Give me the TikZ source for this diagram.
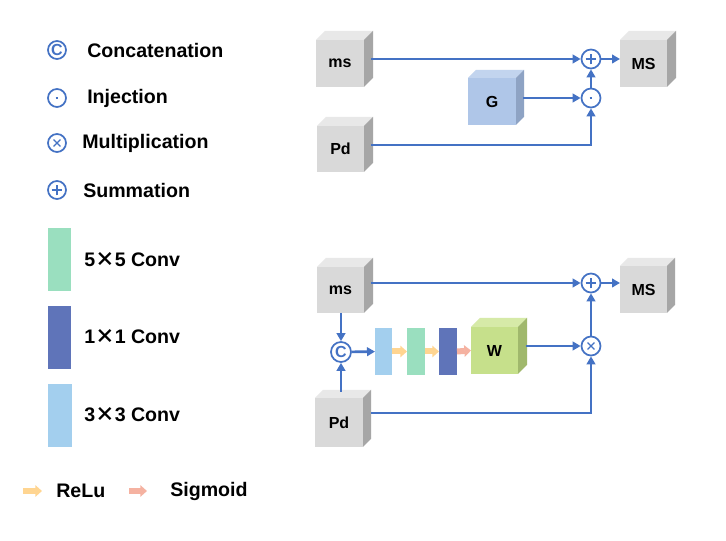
\documentclass[tikz,border=0pt]{standalone}
\usepackage{fontspec}
\setmainfont{Liberation Sans}
\newfontfamily\cjk{Noto Sans CJK SC}
\usetikzlibrary{arrows.meta,calc}
\definecolor{lineblue}{RGB}{68,114,196}
\definecolor{gfront}{RGB}{217,217,217}
\definecolor{gtop}{RGB}{232,232,232}
\definecolor{gside}{RGB}{166,166,166}
\definecolor{bfront}{RGB}{175,198,232}
\definecolor{btop}{RGB}{194,212,238}
\definecolor{bside}{RGB}{142,163,196}
\definecolor{wfront}{RGB}{198,224,139}
\definecolor{wtop}{RGB}{214,234,168}
\definecolor{wside}{RGB}{160,184,108}
\definecolor{convlb}{RGB}{163,207,238}
\definecolor{convgr}{RGB}{154,223,191}
\definecolor{convdb}{RGB}{95,116,185}
\definecolor{reluc}{RGB}{255,213,145}
\definecolor{sigc}{RGB}{245,178,161}
\tikzset{
  cubefront/.style={rectangle, inner sep=0pt, outer sep=0pt, font=\bfseries\fontsize{12}{13}\selectfont},
  opc/.style={circle, draw=lineblue, line width=1.3pt, fill=white, inner sep=0pt, minimum size=14.25pt, text=lineblue},
  legc/.style={opc, minimum size=13.5pt},
  opplus/.style={path picture={\draw[lineblue, line width=1.1pt]
     ([xshift=-4pt]path picture bounding box.center) -- ([xshift=4pt]path picture bounding box.center)
     ([yshift=-4pt]path picture bounding box.center) -- ([yshift=4pt]path picture bounding box.center);}},
  optimes/.style={path picture={\draw[lineblue, line width=0.9pt]
     ([xshift=-2.6pt,yshift=-2.6pt]path picture bounding box.center) -- ([xshift=2.6pt,yshift=2.6pt]path picture bounding box.center)
     ([xshift=-2.6pt,yshift=2.6pt]path picture bounding box.center) -- ([xshift=2.6pt,yshift=-2.6pt]path picture bounding box.center);}},
  opdot/.style={path picture={\draw[lineblue, line width=1pt]
     ([xshift=-1pt]path picture bounding box.center) -- ([xshift=1pt]path picture bounding box.center);}},
  opcat/.style={font=\bfseries\fontsize{12}{12}\selectfont},
  conn/.style={draw=lineblue, line width=2pt, -{Triangle[length=6pt,width=6.5pt]}},
  fat/.style={line width=4.5pt, -{Triangle[length=5pt,width=8.5pt]}},
  convbox/.style={rectangle, inner sep=0pt, outer sep=0pt, minimum height=47*0.75pt},
  legtext/.style={anchor=west, inner sep=0pt, font=\bfseries\fontsize{14.7}{16}\selectfont},
}
% name, x, y, w, h, d, scheme, text
\newcommand\cubenode[8]{%
  \node[cubefront, fill=#7front, minimum width=#4*0.75pt, minimum height=#5*0.75pt] (#1) at (#2,#3) {#8};
  \fill[#7top] (#1.north west) -- ++(#6,-#6) -- ++(#4,0) -- (#1.north east) -- cycle;
  \fill[#7side] (#1.north east) -- ++(#6,-#6) -- ++(0,#5) -- (#1.south east) -- cycle;
}
\begin{document}
\begin{tikzpicture}[x=0.75pt,y=-0.75pt]
\useasboundingbox[fill=white] (0,0) rectangle (726,541);

% ---------- legend ----------
\node[legc, opcat] (lc) at (57,50) {C};
\node[legtext] (lct) at (87,50) {Concatenation};
\node[legc, opdot] (li) at (57,98) {};
\node[legtext] (lit) at (87,98) {Injection};
\node[legc, optimes] (lm) at (57,143) {};
\node[legtext] (lmt) at (82,143) {Multiplication};
\node[legc, opplus] (ls) at (57,190) {};
\node[legtext] (lst) at (83,190) {Summation};

\node[convbox, fill=convgr, minimum width=23*0.75pt, minimum height=63*0.75pt] (lg) at (59.5,259.5) {};
\node[legtext] (lgt) at (84,260) {5{\cjk ×}5 Conv};
\node[convbox, fill=convdb, minimum width=23*0.75pt, minimum height=63*0.75pt] (ld) at (59.5,337.5) {};
\node[legtext] (ldt) at (84,337) {1{\cjk ×}1 Conv};
\node[convbox, fill=convlb, minimum width=24*0.75pt, minimum height=63*0.75pt] (lb) at (60,415.5) {};
\node[legtext] (lbt) at (84,415) {3{\cjk ×}3 Conv};

\coordinate (ra) at (23,491);
\coordinate (rb) at (42,491);
\draw[fat, reluc] (ra) -- (rb);
\node[legtext] (rt) at (56,491) {ReLu};
\coordinate (sa) at (129,491);
\coordinate (sb) at (147,491);
\draw[fat, sigc] (sa) -- (sb);
\node[legtext] (st) at (170,491) {Sigmoid};

% ---------- top diagram ----------
\cubenode{ms1}{340}{63.5}{48}{47}{9}{g}{ms}
\cubenode{pd1}{340.5}{149}{47}{46}{9}{g}{Pd}
\cubenode{G}{492}{101.5}{48}{47}{8}{b}{G}
\cubenode{MS1}{643.5}{63.5}{47}{47}{9}{g}{MS}
\node[opc, opplus] (p1) at (591,59) {};
\node[opc, opdot] (m1) at (591,98) {};
\coordinate (ms1o) at (371,59);
\coordinate (pd1o) at (371,145);
\coordinate (Go) at (523,98);
\draw[conn] (ms1o) -- (p1);
\draw[conn] (Go) -- (m1);
\draw[conn] (pd1o) -| (m1);
\draw[conn] (m1) -- (p1);
\draw[conn] (p1) -- (p1 -| MS1.west);

% ---------- bottom diagram ----------
\cubenode{ms2}{340.5}{290}{47}{46}{9}{g}{ms}
\cubenode{pd2}{339}{422.5}{48}{49}{8}{g}{Pd}
\cubenode{MS2}{643.5}{289.5}{47}{47}{8}{g}{MS}
\cubenode{W}{494.5}{350.5}{47}{47}{9}{w}{W}
\node[convbox, fill=convlb, minimum width=17*0.75pt] (cv1) at (383.5,351.5) {};
\node[convbox, fill=convgr, minimum width=18*0.75pt] (cv2) at (416,351.5) {};
\node[convbox, fill=convdb, minimum width=18*0.75pt] (cv3) at (448,351.5) {};
\node[opc, opcat, minimum size=15pt] (c2) at (341,352) {C};
\node[opc, opplus] (p2) at (591,283) {};
\node[opc, optimes] (x2) at (591,346) {};
\coordinate (ms2o) at (371,283);
\coordinate (pd2o) at (371,413);
\coordinate (pd2t) at (341,392);
\coordinate (Wo) at (526,346);
\draw[conn] (ms2o) -- (p2);
\draw[conn] (ms2.south -| c2) -- (c2);
\draw[conn] (pd2t) -- (c2);
\draw[conn] (c2) -- (cv1);
\draw[fat, reluc] (cv1.east) -- (cv2.west);
\draw[fat, reluc] (cv2.east) -- (cv3.west);
\draw[fat, sigc] (cv3.east) -- (W.west);
\draw[conn] (Wo) -- (x2);
\draw[conn] (pd2o) -| (x2);
\draw[conn] (x2) -- (p2);
\draw[conn] (p2) -- (p2 -| MS2.west);
\end{tikzpicture}
\end{document}
